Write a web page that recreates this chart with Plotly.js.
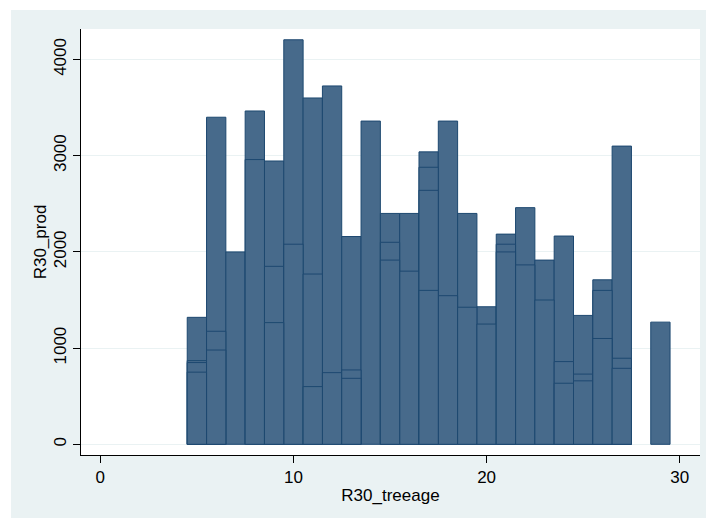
<!DOCTYPE html>
<html>
<head>
<meta charset="utf-8">
<script src="https://cdn.plot.ly/plotly-3.0.1.min.js"></script>
<style>
html, body { margin: 0; padding: 0; background: #ffffff; width: 707px; height: 518px; overflow: hidden; }
#chart { position: absolute; left: 11px; top: 10px; width: 695px; height: 508px; }
</style>
</head>
<body>
<div id="chart"></div>
<script>
// Tree age categories (x positions of bars)
const ages = [5, 6, 7, 8, 9, 10, 11, 12, 13, 14, 15, 16, 17, 18, 19, 20, 21, 22, 23, 24, 25, 26, 27, 29];
// Overlapping observations per age, tallest first (null = no further observation visible)
const prodLayer1 = [1320, 3400, 2000, 3465, 2945, 4205, 3600, 3725, 2160, 3360, 2400, 2400, 3040, 3360, 2400, 1430, 2185, 2460, 1915, 2165, 1340, 1710, 3100, 1270];
const prodLayer2 = [870, 1175, null, 2960, 1850, 2080, 1770, 745, 773, null, 2100, 1800, 2880, 1545, 1425, 1250, 2080, 1865, 1500, 860, 730, 1600, 895, null];
const prodLayer3 = [850, 980, null, null, 1265, null, 600, null, 686, null, 1915, null, 2640, null, null, null, 2000, null, null, 635, 660, 1100, 790, null];
const prodLayer4 = [750, null, null, null, null, null, null, null, null, null, null, null, 1600, null, null, null, null, null, null, null, null, null, null, null];

const xTicks = [0, 10, 20, 30];
const yTicks = [0, 1000, 2000, 3000, 4000];

const fillColor = '#476a8b';
const edgeColor = '#1d4870';

const layers = [prodLayer1, prodLayer2, prodLayer3, prodLayer4];
const traces = layers.map(function (vals) {
  return {
    type: 'bar',
    x: ages,
    y: vals,
    width: 1,
    marker: { color: fillColor, line: { color: edgeColor, width: 1 } },
    hoverinfo: 'x+y',
    showlegend: false
  };
});

const fontFam = 'Liberation Sans, Arial, sans-serif';

const layout = {
  width: 695,
  height: 508,
  paper_bgcolor: '#eaf2f3',
  plot_bgcolor: '#ffffff',
  barmode: 'overlay',
  margin: { l: 70, r: 6, t: 19, b: 63, pad: 0 },
  font: { family: fontFam, size: 14, color: '#000000' },
  showlegend: false,
  xaxis: {
    range: [-1.0, 31.05],
    tickvals: xTicks,
    ticktext: xTicks.map(String),
    ticks: 'outside',
    ticklen: 7,
    tickwidth: 1,
    tickcolor: '#000000',
    showline: true,
    linecolor: '#000000',
    linewidth: 1,
    showgrid: false,
    zeroline: false,
    tickfont: { family: fontFam, size: 17, color: '#000000' },
    title: { text: 'R30_treeage', font: { family: fontFam, size: 17, color: '#000000' }, standoff: 2 }
  },
  yaxis: {
    range: [-111, 4317],
    tickvals: yTicks,
    ticktext: yTicks.map(String),
    tickangle: -90,
    ticks: 'outside',
    ticklen: 7,
    tickwidth: 1,
    tickcolor: '#000000',
    showline: true,
    linecolor: '#000000',
    linewidth: 1,
    showgrid: true,
    gridcolor: '#eaf2f3',
    gridwidth: 1,
    zeroline: false,
    tickfont: { family: fontFam, size: 17, color: '#000000' },
    title: { text: 'R30_prod', font: { family: fontFam, size: 17, color: '#000000' }, standoff: 0 }
  }
};

Plotly.newPlot('chart', traces, layout, { displayModeBar: false, staticPlot: true });
</script>
</body>
</html>
